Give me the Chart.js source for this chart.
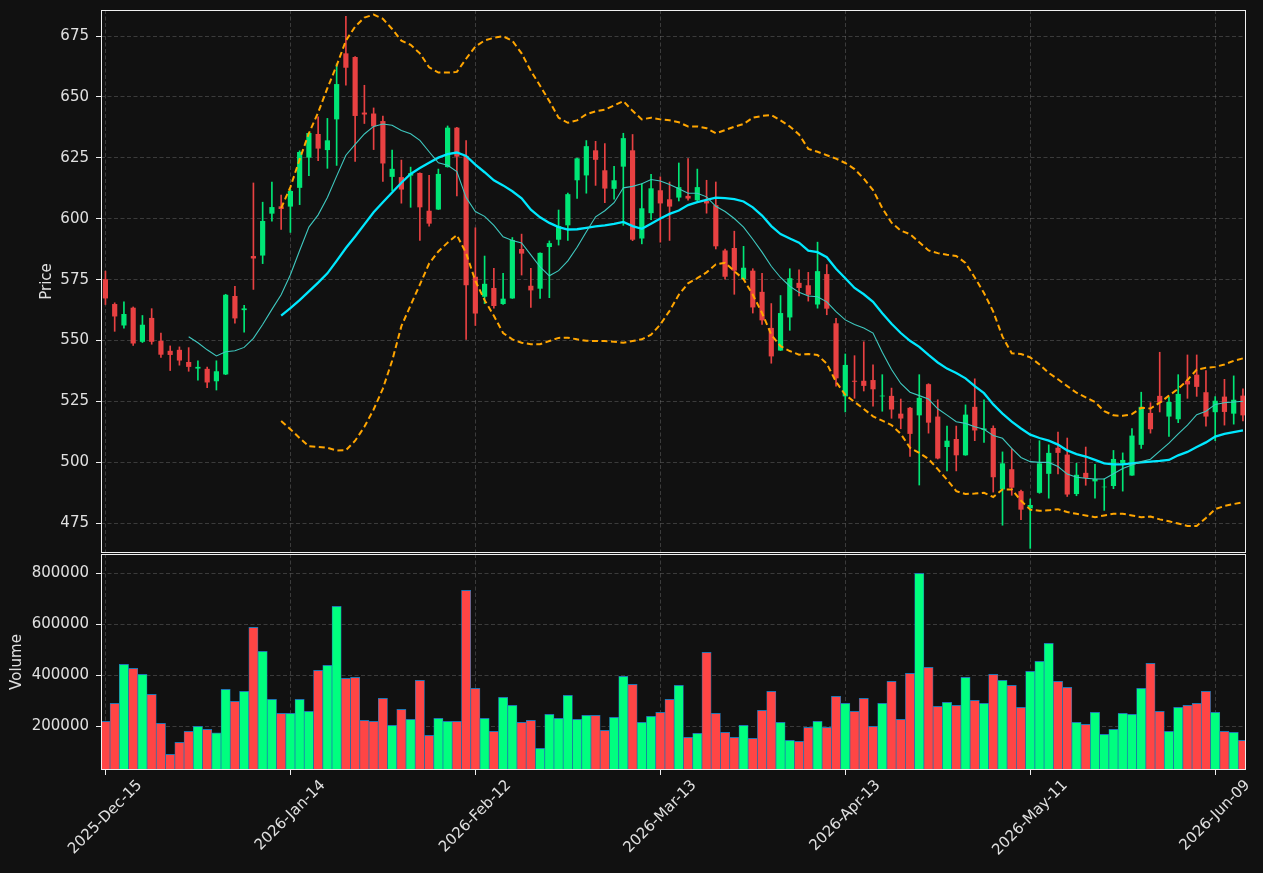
<!DOCTYPE html>
<html>
<head>
<meta charset="utf-8">
<title>Price and volume</title>
<script src="https://cdn.jsdelivr.net/npm/chart.js@4.4.1/dist/chart.umd.min.js"></script>
<style>
    html, body { margin: 0; padding: 0; background: #111111; }
    #wrap { position: relative; width: 1263px; height: 873px; }
    #wrap canvas { position: absolute; left: 0; top: 0; }
</style>
</head>
<body>
<div id="wrap">
    <canvas id="price-chart" width="1263" height="873"></canvas>
    <canvas id="volume-chart" width="1263" height="873"></canvas>
</div>
<script>
// ---- data (one entry per trading day) ----
const opens = [
    575.2, 565.0, 556.2, 563.5, 549.5, 559.3, 549.9, 545.8, 546.2, 541.2,
    538.5, 538.4, 533.3, 536.1, 568.3, 562.5, 584.7, 584.9, 602.1, 605.1,
    605.0, 612.7, 625.1, 634.8, 628.2, 640.8, 667.9, 666.4, 643.6, 643.2,
    640.1, 617.2, 617.1, 617.7, 618.8, 603.3, 603.8, 621.2, 637.4, 625.8,
    576.2, 568.0, 571.6, 565.0, 567.3, 587.6, 572.5, 571.3, 588.4, 591.4,
    597.3, 615.8, 617.8, 628.1, 619.9, 612.3, 621.4, 628.1, 591.9, 602.3,
    611.7, 608.0, 608.7, 609.4, 607.6, 607.3, 605.6, 587.0, 588.0, 575.2,
    578.7, 570.0, 555.2, 545.9, 559.5, 573.7, 572.7, 564.8, 577.3, 557.1,
    527.1, 533.5, 533.5, 533.8, 527.1, 527.3, 520.0, 522.4, 519.3, 532.1,
    518.8, 506.3, 509.6, 502.9, 522.8, 513.3, 514.1, 488.9, 497.2, 488.2,
    481.1, 487.5, 495.3, 506.0, 503.2, 487.0, 495.7, 492.2, 489.8, 490.3,
    499.6, 494.6, 507.2, 520.3, 527.3, 518.8, 517.7, 533.5, 536.0, 528.8,
    520.6, 527.0, 520.0, 527.4
];
const highs = [
    578.5, 565.5, 565.9, 563.8, 560.3, 563.1, 553.1, 547.8, 547.4, 547.1,
    541.7, 539.1, 541.7, 569.0, 572.3, 564.5, 614.7, 606.8, 615.1, 609.7,
    612.0, 627.9, 635.3, 641.8, 641.2, 663.6, 683.1, 666.6, 654.8, 645.5,
    642.2, 628.2, 624.1, 621.2, 618.9, 617.8, 620.4, 638.1, 637.5, 632.1,
    596.3, 584.7, 579.7, 577.6, 592.3, 593.7, 579.7, 586.0, 590.9, 603.6,
    610.5, 624.9, 632.1, 631.8, 630.9, 621.5, 635.1, 634.6, 614.4, 618.2,
    617.2, 615.1, 622.9, 624.7, 620.4, 615.8, 615.1, 587.6, 594.9, 588.7,
    579.5, 577.6, 565.2, 568.5, 579.5, 579.0, 578.0, 590.4, 581.2, 559.1,
    544.5, 543.8, 549.5, 540.0, 536.0, 530.5, 526.0, 522.6, 536.0, 532.3,
    525.7, 514.9, 514.9, 523.6, 534.3, 525.7, 515.0, 504.3, 505.6, 488.6,
    485.0, 508.9, 507.2, 512.4, 510.0, 499.6, 506.3, 499.2, 493.2, 504.9,
    503.9, 513.9, 528.8, 524.5, 545.2, 526.7, 536.0, 544.1, 544.1, 537.7,
    527.0, 534.1, 535.5, 530.2
];
const lows = [
    564.8, 553.8, 555.1, 548.0, 549.2, 548.5, 543.1, 537.7, 539.9, 537.4,
    533.7, 530.7, 529.7, 536.0, 557.1, 553.5, 571.0, 581.6, 599.0, 595.6,
    594.4, 605.8, 617.7, 623.9, 620.7, 621.9, 654.8, 623.5, 639.1, 628.4,
    615.3, 611.5, 606.4, 604.7, 591.1, 597.0, 603.8, 621.2, 609.4, 550.5,
    556.2, 565.2, 563.3, 564.8, 567.3, 576.9, 563.6, 567.3, 567.6, 589.2,
    591.1, 608.4, 610.5, 613.7, 606.6, 608.0, 597.3, 591.0, 589.7, 599.6,
    590.4, 591.1, 607.3, 607.6, 607.3, 602.3, 587.6, 575.2, 569.0, 575.2,
    561.3, 556.6, 540.7, 545.9, 554.2, 568.3, 566.2, 563.3, 560.6, 531.3,
    520.7, 526.3, 529.3, 523.1, 521.0, 518.1, 513.8, 502.4, 490.7, 512.0,
    501.4, 496.5, 496.5, 502.9, 508.9, 508.2, 487.8, 474.2, 486.5, 476.5,
    464.7, 487.3, 485.3, 495.3, 486.0, 486.3, 490.6, 485.3, 480.3, 489.2,
    488.2, 494.6, 505.7, 512.0, 520.7, 510.7, 516.3, 526.3, 527.1, 514.9,
    508.9, 515.3, 515.7, 517.0
];
const closes = [
    567.3, 559.9, 560.9, 548.8, 556.5, 549.5, 544.2, 544.1, 541.8, 539.2,
    539.2, 532.8, 537.4, 568.8, 559.1, 563.2, 583.7, 599.1, 604.8, 604.0,
    611.4, 627.4, 635.2, 628.8, 632.2, 655.3, 662.0, 642.2, 642.8, 637.9,
    622.7, 620.5, 612.0, 618.7, 604.7, 598.0, 618.4, 637.4, 625.5, 572.7,
    561.1, 573.3, 564.2, 567.2, 591.3, 585.7, 570.6, 586.0, 590.0, 597.0,
    610.1, 624.8, 629.8, 624.2, 612.4, 615.8, 633.1, 591.4, 604.3, 612.5,
    606.3, 605.0, 613.0, 608.3, 613.0, 606.3, 588.7, 576.2, 578.7, 579.9,
    563.6, 558.3, 543.5, 561.3, 575.6, 571.6, 568.8, 578.5, 563.1, 534.5,
    540.0, 533.1, 531.4, 530.0, 527.4, 521.7, 518.0, 511.7, 526.5, 516.3,
    501.6, 508.9, 502.9, 519.6, 513.1, 513.9, 493.9, 499.6, 489.6, 480.6,
    482.5, 499.6, 503.9, 503.9, 486.8, 494.9, 493.6, 493.2, 490.0, 501.4,
    501.0, 511.0, 522.8, 513.6, 524.5, 524.8, 528.1, 532.0, 531.0, 518.8,
    525.3, 520.7, 525.7, 519.3
];
const volumes = [
    219600, 290200, 443100, 427500, 403900, 325500, 211800, 90200, 137300, 180400,
    200000, 188200, 173900, 345100, 298000, 337300, 588200, 494100, 305900, 251000,
    251000, 305900, 258800, 419600, 439200, 670600, 388200, 392200, 223500, 219600,
    309800, 203900, 266700, 227500, 380400, 164700, 231400, 219600, 219600, 733300,
    349000, 231400, 180400, 313700, 282400, 215700, 223500, 113700, 247100, 231400,
    321600, 227500, 243100, 243100, 184300, 235300, 396100, 364700, 215700, 239200,
    254900, 305900, 360800, 156900, 172500, 490200, 251000, 176500, 156900, 203900,
    152900, 262700, 337300, 215700, 145100, 141200, 196100, 219600, 196100, 317600,
    290200, 258800, 309800, 200000, 290200, 376500, 227500, 407800, 800000, 431400,
    278400, 294100, 282400, 392200, 302000, 290200, 403900, 380400, 360800, 274500,
    415700, 454900, 525500, 376500, 352900, 215700, 207800, 254900, 168600, 188200,
    251000, 247100, 349000, 447100, 258800, 180400, 274500, 282400, 290200, 337300,
    254900, 180400, 176500, 145100
];

// short moving average starts at day 9, the 20-day lines at day 19
const ma10Start = 9;
const ma10 = [
    551.6, 549.1, 546.2, 543.7, 545.4, 545.8, 547.2, 550.9, 556.6, 562.8,
    568.8, 577.0, 587.0, 596.6, 601.6, 608.7, 617.5, 626.1, 630.5, 634.8,
    637.9, 638.9, 638.4, 636.2, 634.9, 632.2, 627.5, 623.0, 622.0, 619.4,
    608.7, 603.0, 601.0, 597.3, 592.6, 591.1, 590.1, 585.2, 580.2, 576.6,
    578.7, 582.7, 588.3, 594.7, 600.8, 603.3, 606.6, 612.7, 613.3, 614.4,
    616.1, 615.5, 614.1, 612.3, 610.5, 610.5, 609.0, 605.1, 603.0, 600.1,
    596.6, 591.6, 586.3, 580.5, 575.9, 572.3, 569.8, 568.3, 568.0, 565.9,
    561.9, 558.5, 556.6, 555.2, 553.1, 545.2, 538.1, 532.4, 528.8, 527.4,
    526.0, 522.0, 519.4, 516.7, 516.0, 514.6, 513.6, 511.0, 509.9, 505.7,
    502.0, 500.3, 500.0, 500.0, 498.3, 495.2, 493.9, 493.5, 493.2, 493.2,
    495.3, 497.5, 498.9, 500.3, 501.3, 504.6, 507.9, 511.7, 515.3, 519.6,
    521.0, 523.8, 524.5, 524.8, 525.1
];
const ma20Start = 19;
const ma20 = [
    560.2, 563.3, 566.6, 570.2, 573.8, 577.6, 582.7, 588.0, 592.7, 597.7,
    602.7, 606.8, 610.8, 614.8, 618.4, 620.8, 623.0, 625.1, 626.5, 627.2,
    625.8, 622.2, 619.1, 615.8, 613.7, 611.3, 608.4, 603.7, 600.6, 598.3,
    596.6, 595.6, 595.7, 596.3, 596.9, 597.3, 597.9, 598.7, 597.0, 595.9,
    598.0, 600.1, 602.0, 603.4, 605.6, 606.8, 607.8, 608.7, 608.5, 608.1,
    607.1, 604.7, 601.3, 597.0, 593.7, 591.9, 590.2, 586.9, 586.3, 584.2,
    579.5, 575.6, 571.6, 569.0, 565.9, 561.2, 556.9, 553.1, 549.9, 547.4,
    544.1, 541.0, 538.5, 536.7, 534.5, 531.3, 528.4, 523.8, 520.0, 516.7,
    513.9, 511.4, 510.0, 508.9, 507.3, 504.9, 503.4, 502.4, 501.0, 499.6,
    499.2, 499.2, 499.6, 500.0, 500.3, 500.6, 501.0, 502.9, 504.3, 506.3,
    508.2, 510.6, 511.7, 512.4, 513.1
];
const bbUpper = [
    604.4, 613.0, 624.4, 635.1, 643.6, 653.6, 662.9, 673.1, 678.9, 682.6,
    683.8, 682.1, 677.9, 673.1, 671.4, 667.9, 662.2, 660.0, 660.0, 660.3,
    665.7, 670.7, 673.2, 674.3, 674.9, 673.1, 667.9, 660.7, 654.6, 648.3,
    641.5, 639.4, 640.4, 642.9, 644.1, 644.8, 646.5, 648.3, 644.3, 640.8,
    641.5, 640.8, 640.4, 639.6, 637.9, 637.9, 637.2, 635.1, 636.4, 637.8,
    638.9, 641.5, 642.2, 642.6, 640.4, 637.9, 634.6, 628.7, 627.5, 626.1,
    624.7, 622.9, 620.4, 616.5, 611.8, 604.4, 598.4, 595.1, 593.7, 590.4,
    587.0, 585.9, 585.2, 584.7, 581.9, 575.9, 569.5, 561.9, 551.6, 544.8,
    544.5, 543.1, 540.2, 536.7, 534.1, 531.3, 528.6, 526.7, 524.8, 521.0,
    519.3, 519.1, 519.8, 522.4, 522.1, 524.5, 527.4, 530.2, 533.8, 538.1,
    538.8, 539.2, 540.2, 541.7, 542.7
];
const bbLower = [
    517.0, 513.6, 510.0, 506.6, 506.3, 506.0, 504.9, 505.0, 508.9, 514.6,
    521.7, 530.3, 541.7, 555.9, 564.5, 573.0, 581.6, 586.6, 590.2, 593.3,
    585.9, 574.5, 566.6, 560.2, 553.1, 550.5, 549.1, 548.5, 548.5, 549.8,
    551.1, 551.2, 550.5, 549.9, 549.8, 549.8, 549.5, 549.1, 549.8, 550.5,
    552.4, 556.6, 562.2, 568.8, 573.5, 575.6, 578.0, 581.3, 581.9, 578.5,
    575.2, 568.8, 561.3, 552.4, 547.7, 545.7, 544.2, 544.5, 544.1, 540.5,
    533.1, 527.7, 524.8, 521.9, 518.9, 517.1, 515.3, 511.7, 506.0, 503.9,
    501.4, 497.2, 492.9, 488.2, 487.0, 487.2, 487.5, 485.8, 488.9, 488.9,
    484.3, 480.6, 480.1, 480.3, 480.8, 479.6, 478.9, 478.2, 477.5, 478.2,
    478.9, 478.9, 478.2, 477.5, 477.8, 476.6, 475.8, 474.9, 473.9, 473.9,
    477.2, 480.8, 482.1, 482.9, 483.6
];

// axis ticks
const tickIdx = [0, 20, 40, 60, 80, 100, 120];
const tickLabels = ["2025-Dec-15", "2026-Jan-14", "2026-Feb-12", "2026-Mar-13", "2026-Apr-13", "2026-May-11", "2026-Jun-09"];
const priceTicks = [475, 500, 525, 550, 575, 600, 625, 650, 675];
const volumeTicks = [200000, 400000, 600000, 800000];

// ---- styling ----
const TEXT = "#e0e0e0";
const SPINE = "#f0f0f0";
const GRID = "rgba(150, 150, 150, 0.32)";
const FONT = { family: "'DejaVu Sans', sans-serif", size: 15 };
const X_MIN = -0.48;
const X_MAX = 123.33;

Chart.defaults.font.family = FONT.family;
Chart.defaults.color = TEXT;

const isUp = closes.map((c, i) => c >= opens[i]);
const candleColors = isUp.map((up) => (up ? "#00e676" : "#e84142"));
const volumeColors = isUp.map((up) => (up ? "#00ff7f" : "#ff4545"));

const bodies = opens.map((o, i) => ({ x: i, y: [o, closes[i]] }));
const wicks = lows.map((l, i) => ({ x: i, y: [l, highs[i]] }));
const volumeBars = volumes.map((v, i) => ({ x: i, y: v }));
const toPoints = (arr, start) => arr.map((v, k) => ({ x: start + k, y: v }));

// box round each panel, like the matplotlib spines
const framePlugin = {
    id: "frame",
    afterDatasetsDraw(chart) {
        const { ctx, chartArea: a } = chart;
        ctx.save();
        ctx.strokeStyle = SPINE;
        ctx.lineWidth = 1;
        ctx.strokeRect(a.left + 0.5, a.top + 0.5, a.right - a.left - 1, a.bottom - a.top - 1);
        ctx.restore();
    },
};

// rotated date labels, centred under their tick
const dateLabelPlugin = {
    id: "dateLabels",
    afterDraw(chart) {
        const { ctx, chartArea } = chart;
        const xScale = chart.scales.x;
        ctx.save();
        ctx.font = `${FONT.size}px ${FONT.family}`;
        ctx.fillStyle = TEXT;
        ctx.textAlign = "center";
        ctx.textBaseline = "middle";
        tickIdx.forEach((v, k) => {
            const label = tickLabels[k];
            const px = xScale.getPixelForValue(v);
            const w = ctx.measureText(label).width;
            const half = ((w + 17) * Math.SQRT1_2) / 2;
            ctx.save();
            ctx.translate(px, chartArea.bottom + 7 + half);
            ctx.rotate(-Math.PI / 4);
            ctx.fillText(label, 0, 0);
            ctx.restore();
        });
        ctx.restore();
    },
};

function xAxis(extra) {
    return Object.assign({
        type: "linear",
        min: X_MIN,
        max: X_MAX,
        offset: false,
        afterBuildTicks: (axis) => {
            axis.ticks = tickIdx.map((v) => ({ value: v }));
        },
        ticks: { display: false },
        border: { display: false, dash: [4, 2.5] },
    }, extra);
}

function yAxis(min, max, ticks, title, titlePad, callback) {
    return {
        min: min,
        max: max,
        afterBuildTicks: (axis) => {
            axis.ticks = ticks.map((v) => ({ value: v }));
        },
        afterFit: (axis) => {
            axis.width = 101;
            axis.paddingTop = 0;
            axis.paddingBottom = 0;
        },
        ticks: { color: TEXT, font: FONT, padding: 7, callback: callback },
        grid: { color: GRID, tickColor: SPINE, tickLength: 5, tickBorderDash: [], tickWidth: 1 },
        border: { display: false, dash: [4, 2.5] },
        title: { display: true, text: title, color: TEXT, font: FONT, padding: { top: titlePad, bottom: 0 } },
    };
}

// ---- price panel ----
new Chart(document.getElementById("price-chart"), {
    type: "bar",
    data: {
        datasets: [
            {
                type: "line", label: "MA10", data: toPoints(ma10, ma10Start),
                borderColor: "#3fc9c0", borderWidth: 1.1, pointRadius: 0, tension: 0, order: 0,
            },
            {
                type: "line", label: "MA20", data: toPoints(ma20, ma20Start),
                borderColor: "#00e8ff", borderWidth: 2.3, pointRadius: 0, tension: 0, order: 0,
            },
            {
                type: "line", label: "Upper band", data: toPoints(bbUpper, ma20Start),
                borderColor: "#ffa500", borderWidth: 2, borderDash: [6, 3.5], pointRadius: 0, order: 0,
            },
            {
                type: "line", label: "Lower band", data: toPoints(bbLower, ma20Start),
                borderColor: "#ffa500", borderWidth: 2, borderDash: [6, 3.5], pointRadius: 0, order: 0,
            },
            {
                label: "Body", data: bodies, backgroundColor: candleColors,
                barPercentage: 0.56, categoryPercentage: 1, grouped: false, order: 1,
            },
            {
                label: "Wick", data: wicks, backgroundColor: candleColors,
                barThickness: 1, grouped: false, order: 2,
            },
        ],
    },
    options: {
        responsive: false,
        animation: false,
        events: [],
        layout: { padding: { left: 0, right: 17, top: 10, bottom: 320 } },
        plugins: { legend: { display: false }, tooltip: { enabled: false } },
        scales: {
            x: xAxis({
                grid: { color: GRID, drawTicks: false, offset: false },
                afterFit: (axis) => {
                    axis.height = 0;
                    axis.paddingLeft = 0;
                    axis.paddingRight = 0;
                },
            }),
            y: yAxis(462.8, 685.7, priceTicks, "Price", 38.5, (v) => String(v)),
        },
    },
    plugins: [framePlugin],
});

// ---- volume panel ----
new Chart(document.getElementById("volume-chart"), {
    type: "bar",
    data: {
        datasets: [
            {
                label: "Volume", data: volumeBars, backgroundColor: volumeColors,
                borderColor: "#1f77b4", borderWidth: { top: 1, left: 0.7, right: 0.7, bottom: 0 },
                barPercentage: 1, categoryPercentage: 1, grouped: false,
            },
        ],
    },
    options: {
        responsive: false,
        animation: false,
        events: [],
        layout: { padding: { left: 0, right: 17, top: 554, bottom: 0 } },
        plugins: { legend: { display: false }, tooltip: { enabled: false } },
        scales: {
            x: xAxis({
                grid: { color: GRID, drawTicks: true, offset: false, tickColor: SPINE, tickLength: 5, tickBorderDash: [], tickWidth: 1 },
                afterFit: (axis) => {
                    axis.height = 103;
                    axis.paddingLeft = 0;
                    axis.paddingRight = 0;
                },
            }),
            y: yAxis(28600, 875700, volumeTicks, "Volume", 7.7, (v) => String(v)),
        },
    },
    plugins: [framePlugin, dateLabelPlugin],
});
</script>
</body>
</html>
